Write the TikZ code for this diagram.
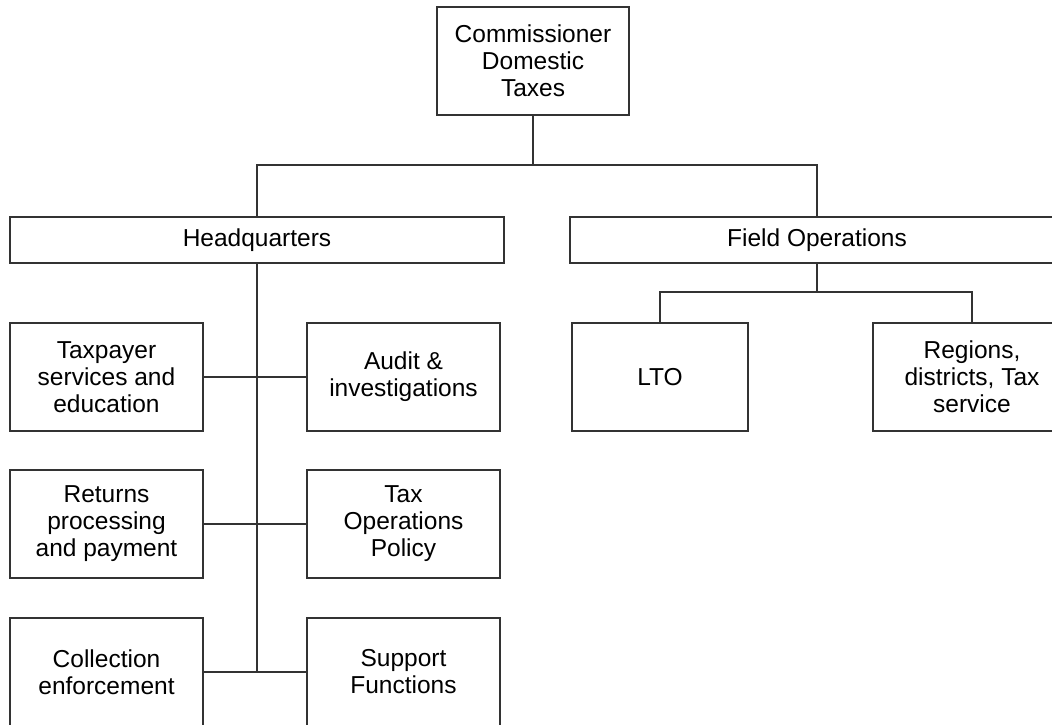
\documentclass[tikz,border=0pt]{standalone}
\usepackage{fontspec}
\setmainfont{Liberation Sans}
\usetikzlibrary{positioning, calc}
\tikzset{
	unit/.style={
		draw=black!80,
		line width=1.3pt,
		rectangle,
		align=center,
		inner sep=0pt,
		font=\fontsize{24.5}{27}\selectfont
	},
	wide/.style={unit, minimum width=494pt, minimum height=46pt},
	tall/.style={unit, minimum width=193pt, minimum height=108pt},
	link/.style={draw=black!80, line width=1.3pt}
}

\begin{document}
\begin{tikzpicture}[x=1pt, y=-1pt]
	\clip (0,0) rectangle (1052,725);
	
	\node(cdt) at (533,61) [unit, minimum width=192pt, minimum height=108pt] {Commissioner\\Domestic\\Taxes};
	\node(hq) at (257,240) [wide] {Headquarters};
	\node(fo) at (817,240) [wide] {Field Operations};
	\coordinate(split) at (533,165);
	\draw[link](cdt) -- (split);
	\draw[link](hq.north) |- (split) -| (fo.north);
	
	% field operations
	\node(lto) at (660,377) [tall, minimum width=176pt] {LTO};
	\node(reg) at (972,377) [tall, minimum width=198pt] {Regions,\\districts, Tax\\service};
	\coordinate(fosplit) at (817,292);
	\draw[link](fo) -- (fosplit);
	\draw[link](lto.north) |- (fosplit) -| (reg.north);
	
	% headquarters
	\node(tse) at (106.5,377) [tall] {Taxpayer\\services and\\education};
	\node(ai) at (403.5,377) [tall] {Audit \&\\investigations};
	\node(rpp) at (106.5,524) [tall] {Returns\\processing\\and payment};
	\node(top) at (403.5,524) [tall] {Tax\\Operations\\Policy};
	\node(ce) at (106.5,672) [tall] {Collection\\enforcement};
	\node(sf) at (403.5,672) [tall] {Support\\Functions};
	\coordinate(spine) at (257,672);
	\draw[link](hq) -- (spine);
	\draw[link](tse) -- (ai);
	\draw[link](rpp) -- (top);
	\draw[link](ce) -- (sf);
	
\end{tikzpicture}
\end{document}
